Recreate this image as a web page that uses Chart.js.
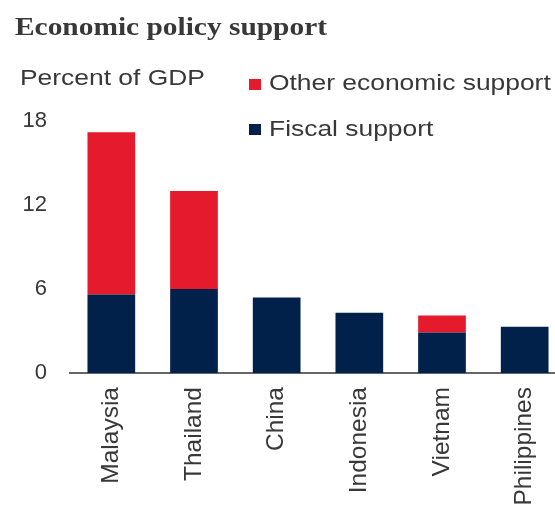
<!DOCTYPE html>
<html>
<head>
<meta charset="utf-8">
<title>Economic policy support</title>
<script src="https://cdn.jsdelivr.net/npm/chart.js@4"></script>
<style>
    html, body { margin: 0; padding: 0; background: #fff; overflow: hidden; }
    #wrap { position: relative; width: 570px; height: 506px; }
</style>
</head>
<body>
<div id="wrap"><canvas id="supportChart"></canvas></div>
<script>
// Datos: porcentaje del PIB por país
const countries = ['Malaysia', 'Thailand', 'China', 'Indonesia', 'Vietnam', 'Philippines'];
const fiscalSupport = [5.6, 6.0, 5.4, 4.3, 2.9, 3.3];
const otherSupport = [11.6, 7.0, 0, 0, 1.2, 0];
const yTicks = [0, 6, 12, 18];

const chartTitle = 'Economic policy support';
const unitLabel = 'Percent of GDP';

const RED = '#E51B2D';
const NAVY = '#01214A';
const TEXT = '#383838';
const STRETCH = 1.2;   // el texto horizontal se ve algo ensanchado

document.addEventListener('DOMContentLoaded', function() {
    initializeChart();
});

// Texto ensanchado horizontalmente
function drawWideText(ctx, text, x, y, font) {
    ctx.save();
    ctx.font = font;
    ctx.fillStyle = TEXT;
    ctx.textBaseline = 'alphabetic';
    ctx.textAlign = 'left';
    ctx.translate(x, y);
    ctx.scale(STRETCH, 1);
    ctx.fillText(text, 0, 0);
    ctx.restore();
}

// Título, unidad y leyenda dibujados encima del gráfico
const headerPlugin = {
    id: 'header',
    afterDraw(chart) {
        const ctx = chart.ctx;
        drawWideText(ctx, chartTitle, 15, 35, 'bold 24.5px "Liberation Serif"');
        drawWideText(ctx, unitLabel, 20, 85, '22px "Liberation Sans"');

        // leyenda: primero "Other", luego "Fiscal"
        const items = chart.data.datasets.slice().reverse();
        const rows = [{ box: 79, base: 90 }, { box: 124, base: 136 }];
        items.forEach((ds, i) => {
            ctx.fillStyle = ds.backgroundColor;
            ctx.fillRect(249, rows[i].box, 12, 11);
            drawWideText(ctx, ds.label, 269, rows[i].base, '22px "Liberation Sans"');
        });
    }
};

function initializeChart() {
    const ctx = document.getElementById('supportChart');
    new Chart(ctx, {
        type: 'bar',
        data: {
            labels: countries,
            datasets: [{
                label: 'Fiscal support',
                data: fiscalSupport,
                backgroundColor: NAVY
            }, {
                label: 'Other economic support',
                data: otherSupport,
                backgroundColor: RED
            }]
        },
        options: {
            responsive: true,
            maintainAspectRatio: false,
            animation: false,
            layout: {
                padding: { top: 121, right: 4, bottom: 0, left: 0 }
            },
            datasets: {
                bar: {
                    categoryPercentage: 1,
                    barPercentage: 0.577,
                    borderWidth: 0
                }
            },
            scales: {
                x: {
                    stacked: true,
                    grid: { display: false, drawTicks: false },
                    border: { display: true, color: '#666', width: 2 },
                    ticks: {
                        color: TEXT,
                        font: { family: 'Liberation Sans', size: 24.5 },
                        padding: 14,
                        minRotation: 90,
                        maxRotation: 90,
                        autoSkip: false
                    },
                    afterFit: function(scale) { scale.height = 133; }
                },
                y: {
                    stacked: true,
                    min: 0,
                    max: 18,
                    grid: { display: false, drawTicks: false },
                    border: { display: false },
                    afterBuildTicks: function(scale) {
                        scale.ticks = yTicks.map(v => ({ value: v }));
                    },
                    ticks: {
                        color: TEXT,
                        font: { family: 'Liberation Sans', size: 22 },
                        padding: 23
                    },
                    afterFit: function(scale) { scale.width = 70; }
                }
            },
            plugins: {
                legend: { display: false },
                tooltip: { enabled: false }
            }
        },
        plugins: [headerPlugin]
    });
}
</script>
</body>
</html>
